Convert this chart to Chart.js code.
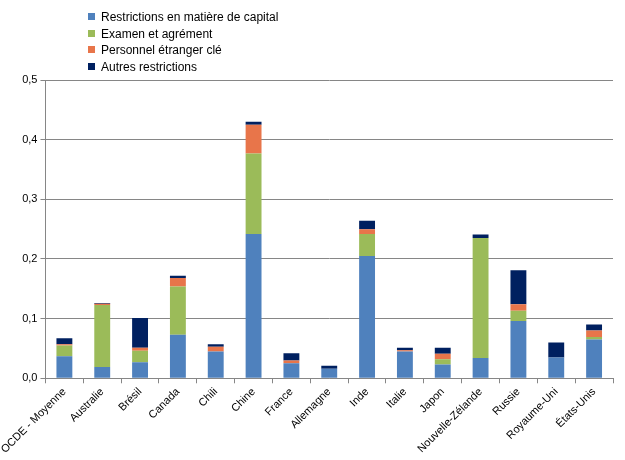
<!DOCTYPE html>
<html><head><meta charset="utf-8">
<script src="https://cdn.jsdelivr.net/npm/chart.js@4"></script>
<style>
body{margin:0;background:#fff;font-family:"Liberation Sans",Arial,sans-serif;}
#wrap{position:relative;width:625px;height:460px;}
#legend{position:absolute;left:88px;top:9px;font-size:12px;color:#000;line-height:16.5px;}
#legend span.b{display:inline-block;width:7px;height:7px;margin-right:6px;vertical-align:1px;}
</style></head>
<body><div id="wrap"><canvas id="c" width="625" height="460"></canvas><div id="legend"></div></div>
<script>
const categories=["OCDE - Moyenne","Australie","Brésil","Canada","Chili","Chine","France","Allemagne","Inde","Italie","Japon","Nouvelle-Zélande","Russie","Royaume-Uni","États-Unis"];
const seriesNames=["Restrictions en matière de capital","Examen et agrément","Personnel étranger clé","Autres restrictions"];
const capital=[0.037,0.019,0.027,0.073,0.045,0.242,0.025,0.016,0.205,0.045,0.023,0.034,0.096,0.035,0.065];
const examen=[0.018,0.104,0.019,0.081,0,0.135,0,0,0.037,0,0.009,0.201,0.017,0,0.004];
const personnel=[0.002,0.002,0.005,0.014,0.008,0.048,0.005,0,0.008,0.002,0.009,0,0.011,0,0.011];
const autres=[0.010,0.001,0.050,0.004,0.004,0.005,0.012,0.005,0.014,0.004,0.010,0.006,0.057,0.025,0.010];
const colors=["#4F81BD","#9BBB59","#E8754A","#002060"];
const vals=[capital,examen,personnel,autres];
document.getElementById('legend').innerHTML=seriesNames.map((n,i)=>`<div><span class="b" style="background:${colors[i]}"></span>${n}</div>`).join('');
new Chart(document.getElementById('c'),{type:'bar',
data:{labels:categories,datasets:seriesNames.map((n,i)=>({label:n,data:vals[i],backgroundColor:colors[i],borderWidth:0,barPercentage:0.42,categoryPercentage:1}))},
options:{responsive:false,animation:false,
layout:{padding:{top:80,right:12,left:4,bottom:2}},
plugins:{legend:{display:false},tooltip:{enabled:false}},
scales:{
x:{stacked:true,grid:{display:true,drawOnChartArea:false,offset:true,color:'#868686',tickLength:5},border:{color:'#868686'},
ticks:{color:'#000',font:{size:11,family:'"Liberation Sans",Arial'},maxRotation:45,minRotation:45,padding:2}},
y:{stacked:true,min:0,max:0.5,grid:{color:'#868686',tickLength:5},border:{color:'#868686'},
ticks:{stepSize:0.1,color:'#000',font:{size:11,family:'"Liberation Sans",Arial'},callback:v=>v.toFixed(1).replace('.',',')}}
}}});
</script></body></html>
